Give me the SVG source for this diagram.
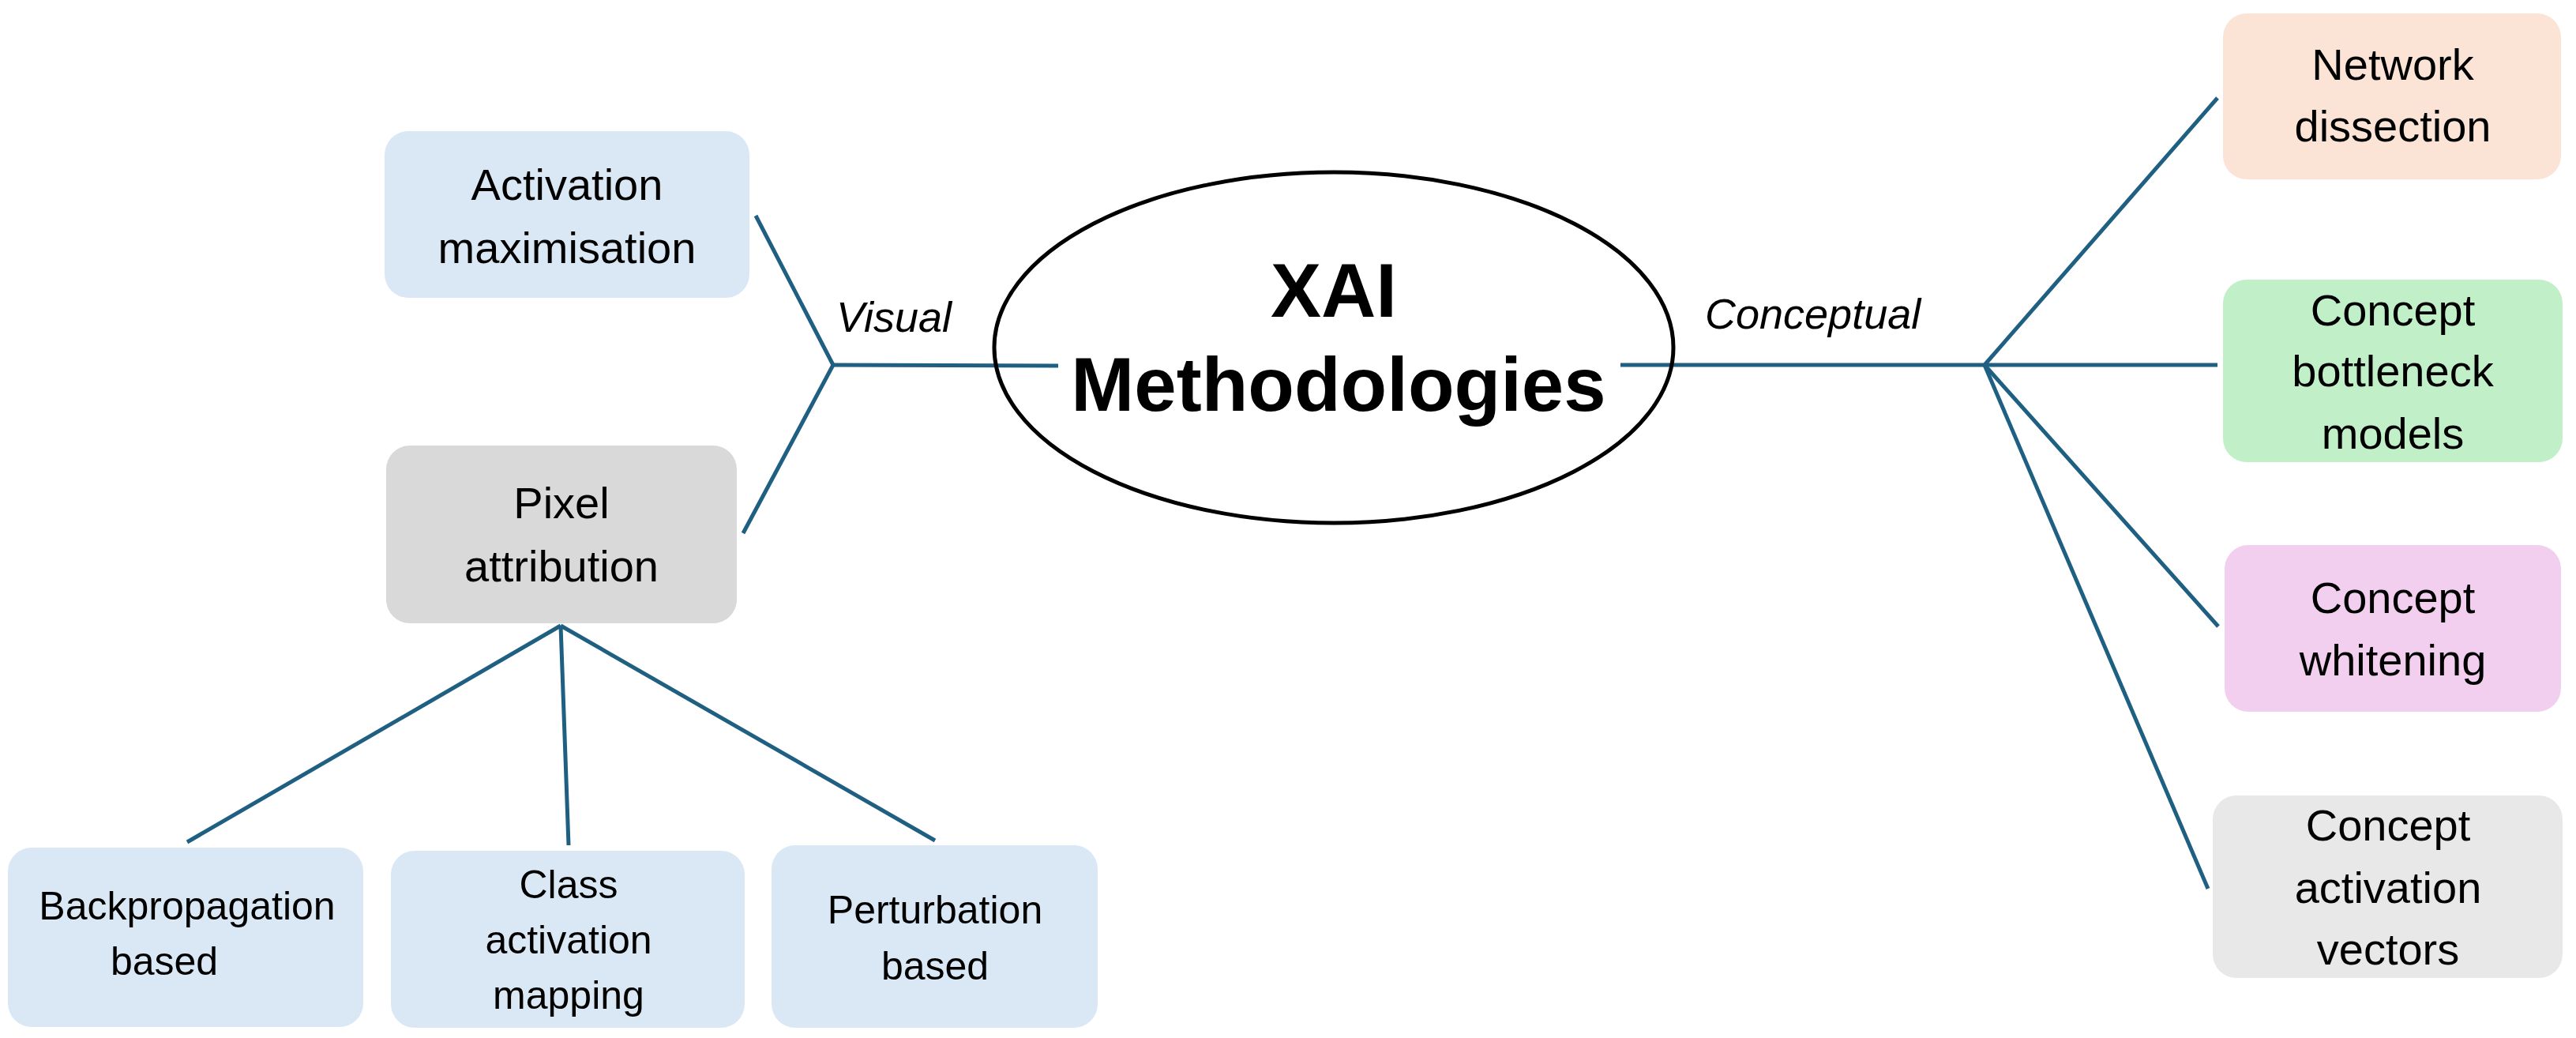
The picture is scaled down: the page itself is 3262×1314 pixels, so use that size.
<svg xmlns="http://www.w3.org/2000/svg" width="3262" height="1314" viewBox="0 0 3262 1314">
<style>
.t{font-family:"Liberation Sans",Arial,sans-serif;font-size:56px;text-anchor:middle;fill:#000}
.s{font-size:50px}
.i{font-family:"Liberation Sans",Arial,sans-serif;font-size:54px;font-style:italic;fill:#000}
.c{stroke:#1f5f82;stroke-width:5;fill:none}
</style>
<rect width="3262" height="1314" fill="#fff"/>
<g id="connectors" class="c">
<line x1="1055" y1="462" x2="957" y2="273"/>
<line x1="1055" y1="462" x2="941" y2="675"/>
<line x1="1055" y1="462" x2="1340" y2="463"/>
<line x1="710" y1="792" x2="237" y2="1066"/>
<line x1="710" y1="792" x2="720" y2="1070"/>
<line x1="710" y1="792" x2="1184" y2="1064"/>
<line x1="2052" y1="462" x2="2513" y2="462"/>
<line x1="2513" y1="462" x2="2808" y2="124"/>
<line x1="2513" y1="462" x2="2808" y2="462"/>
<line x1="2513" y1="462" x2="2809" y2="793"/>
<line x1="2513" y1="462" x2="2796" y2="1125"/>
</g>
<text class="i" x="1059" y="420">Visual</text>
<text class="i" x="2159" y="416">Conceptual</text>
<g id="center">
<ellipse cx="1689" cy="440" rx="430" ry="222" fill="none" stroke="#000" stroke-width="5"/>
<text class="t" x="1689" y="401" style="font-size:96px;font-weight:bold">XAI</text>
<text class="t" x="1695" y="520" style="font-size:96px;font-weight:bold">Methodologies</text>
</g>
<g id="act-max"><rect x="487" y="166" width="462" height="211" rx="30" fill="#dae8f5"/>
<text class="t" x="718" y="253">Activation</text><text class="t" x="718" y="333">maximisation</text></g>
<g id="pixel"><rect x="489" y="564" width="444" height="225" rx="30" fill="#d9d9d9"/>
<text class="t" x="711" y="656">Pixel</text><text class="t" x="711" y="736">attribution</text></g>
<g id="backprop"><rect x="10" y="1073" width="450" height="227" rx="30" fill="#dae8f5"/>
<text class="t s" x="237" y="1164">Backpropagation</text><text class="t s" x="208" y="1234">based</text></g>
<g id="cam"><rect x="495" y="1077" width="448" height="224" rx="30" fill="#dae8f5"/>
<text class="t s" x="720" y="1137">Class</text><text class="t s" x="720" y="1207">activation</text><text class="t s" x="720" y="1277">mapping</text></g>
<g id="perturb"><rect x="977" y="1070" width="413" height="231" rx="30" fill="#dae8f5"/>
<text class="t s" x="1184" y="1169">Perturbation</text><text class="t s" x="1184" y="1240">based</text></g>
<g id="netdis"><rect x="2815" y="17" width="428" height="210" rx="30" fill="#fbe3d6"/>
<text class="t" x="3030" y="101">Network</text><text class="t" x="3030" y="179">dissection</text></g>
<g id="cbm"><rect x="2815" y="354" width="430" height="231" rx="30" fill="#c1f0c8"/>
<text class="t" x="3030" y="412">Concept</text><text class="t" x="3030" y="489">bottleneck</text><text class="t" x="3030" y="568">models</text></g>
<g id="cw"><rect x="2817" y="690" width="426" height="211" rx="30" fill="#f2cfee"/>
<text class="t" x="3030" y="776">Concept</text><text class="t" x="3030" y="855">whitening</text></g>
<g id="cav"><rect x="2802" y="1007" width="443" height="231" rx="30" fill="#e8e8e8"/>
<text class="t" x="3024" y="1064">Concept</text><text class="t" x="3024" y="1143">activation</text><text class="t" x="3024" y="1221">vectors</text></g>
</svg>
